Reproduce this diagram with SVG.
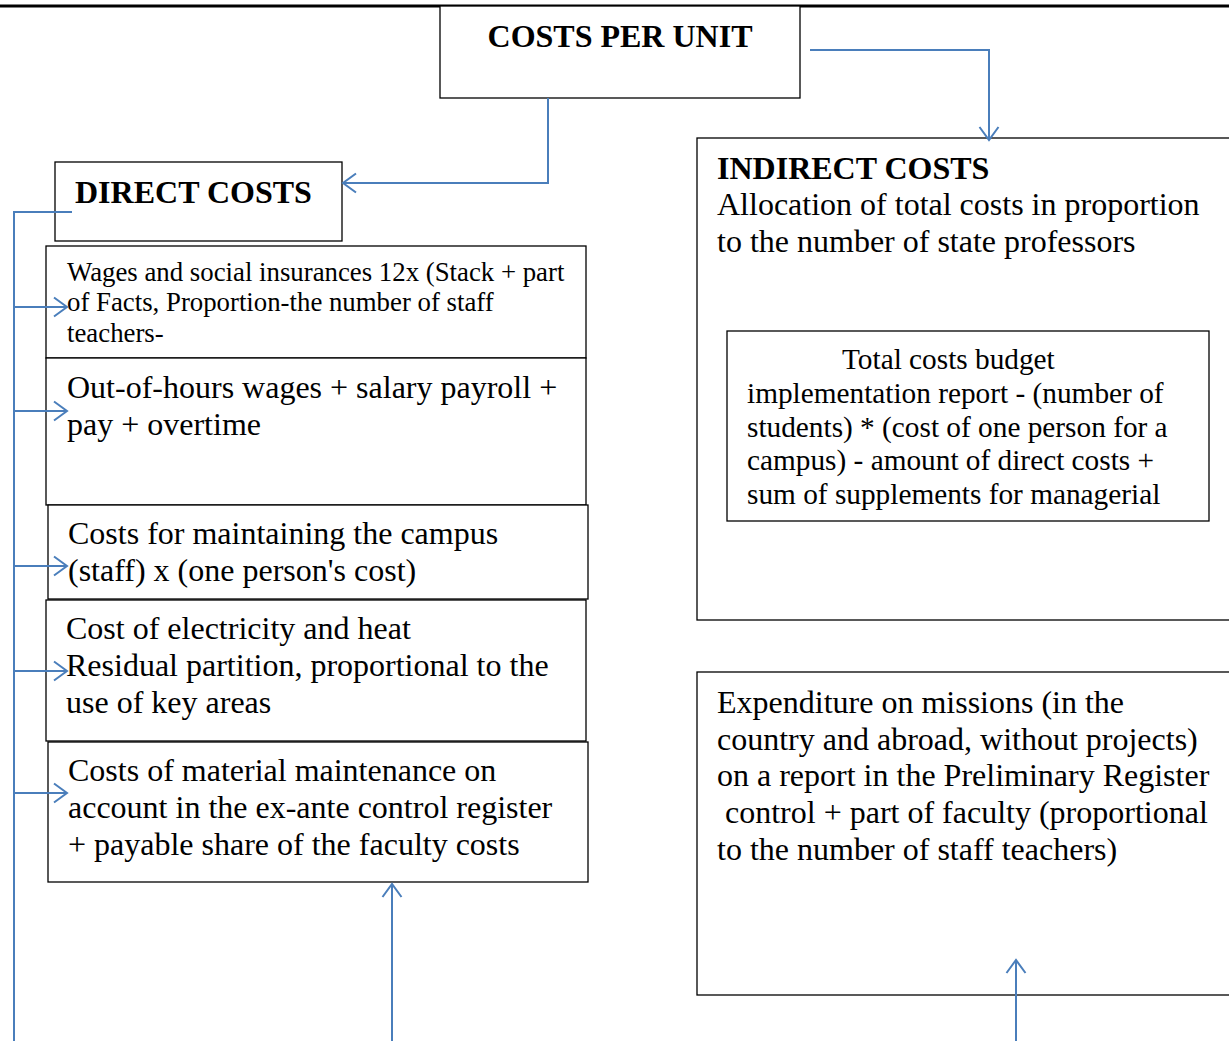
<svg xmlns="http://www.w3.org/2000/svg" width="1229" height="1041" viewBox="0 0 1229 1041">
<style>
.box{fill:#fff;stroke:#000;stroke-width:1.3}
.t{font-family:"Liberation Serif","Times New Roman",serif;fill:#000}
.b{font-weight:bold;font-size:32px}
.r{font-size:32px}
.s{font-size:26.8px}
.m{font-size:29.3px}
.c{fill:none;stroke:#4a7ebb;stroke-width:2}
</style>
<defs>
<marker id="ah" markerUnits="userSpaceOnUse" markerWidth="26" markerHeight="26" refX="21" refY="13" orient="auto" viewBox="0 0 26 26">
<path d="M8,3.5 L21,13 L8,22.5" fill="none" stroke="#4a7ebb" stroke-width="2"/>
</marker>
</defs>
<rect x="0" y="0" width="1229" height="1041" fill="#fff"/>
<line x1="0" y1="6" x2="1229" y2="6" stroke="#000" stroke-width="3"/>

<g id="costs-per-unit">
<rect class="box" x="440" y="6" width="360" height="92"/>
<text class="t b" x="620" y="47" text-anchor="middle">COSTS PER UNIT</text>
</g>

<g id="indirect-costs">
<rect class="box" x="697" y="138" width="540" height="482"/>
<text class="t b" x="717" y="179">INDIRECT COSTS</text>
<text class="t r" x="717" y="215">Allocation of total costs in proportion</text>
<text class="t r" x="717" y="252">to the number of state professors</text>
</g>

<g id="total-costs-budget">
<rect class="box" x="727" y="331" width="482" height="190"/>
<text class="t m" x="842" y="369">Total costs budget</text>
<text class="t m" x="747" y="403">implementation report - (number of</text>
<text class="t m" x="747" y="437">students) * (cost of one person for a</text>
<text class="t m" x="747" y="470">campus) - amount of direct costs +</text>
<text class="t m" x="747" y="504">sum of supplements for managerial</text>
</g>

<g id="expenditure-missions">
<rect class="box" x="697" y="672" width="540" height="323"/>
<text class="t r" x="717" y="713">Expenditure on missions (in the</text>
<text class="t r" x="717" y="750">country and abroad, without projects)</text>
<text class="t r" x="717" y="786">on a report in the Preliminary Register</text>
<text class="t r" x="725" y="823">control + part of faculty (proportional</text>
<text class="t r" x="717" y="860">to the number of staff teachers)</text>
</g>

<g id="direct-costs">
<rect class="box" x="55" y="162" width="287" height="79"/>
<text class="t b" x="75" y="203">DIRECT COSTS</text>
</g>

<g id="wages">
<rect class="box" x="46" y="246" width="540" height="112"/>
<text class="t s" x="67" y="281">Wages and social insurances 12x (Stack + part</text>
<text class="t s" x="67" y="311">of Facts, Proportion-the number of staff</text>
<text class="t s" x="67" y="342">teachers-</text>
</g>

<g id="out-of-hours">
<rect class="box" x="46" y="358" width="540" height="147"/>
<text class="t r" x="67" y="398">Out-of-hours wages + salary payroll +</text>
<text class="t r" x="67" y="435">pay + overtime</text>
</g>

<g id="campus">
<rect class="box" x="48" y="505" width="540" height="94"/>
<text class="t r" x="68" y="544">Costs for maintaining the campus</text>
<text class="t r" x="68" y="581">(staff) x (one person's cost)</text>
</g>

<g id="electricity">
<rect class="box" x="46" y="600" width="540" height="141"/>
<text class="t r" x="66" y="639">Cost of electricity and heat</text>
<text class="t r" x="66" y="676">Residual partition, proportional to the</text>
<text class="t r" x="66" y="713">use of key areas</text>
</g>

<g id="material">
<rect class="box" x="48" y="742" width="540" height="140"/>
<text class="t r" x="68" y="781">Costs of material maintenance on</text>
<text class="t r" x="68" y="818">account in the ex-ante control register</text>
<text class="t r" x="68" y="855">+ payable share of the faculty costs</text>
</g>

<g id="connectors">
<polyline class="c" points="810,50 989,50 989,140" marker-end="url(#ah)"/>
<polyline class="c" points="548,98 548,183 343,183" marker-end="url(#ah)"/>
<polyline class="c" points="72,212 14,212 14,1041"/>
<line class="c" x1="14" y1="307" x2="67" y2="307" marker-end="url(#ah)"/>
<line class="c" x1="14" y1="411" x2="67" y2="411" marker-end="url(#ah)"/>
<line class="c" x1="14" y1="566" x2="67" y2="566" marker-end="url(#ah)"/>
<line class="c" x1="14" y1="671" x2="67" y2="671" marker-end="url(#ah)"/>
<line class="c" x1="14" y1="793" x2="67" y2="793" marker-end="url(#ah)"/>
<line class="c" x1="392" y1="1041" x2="392" y2="884" marker-end="url(#ah)"/>
<line class="c" x1="1016" y1="1041" x2="1016" y2="960" marker-end="url(#ah)"/>
</g>
</svg>
